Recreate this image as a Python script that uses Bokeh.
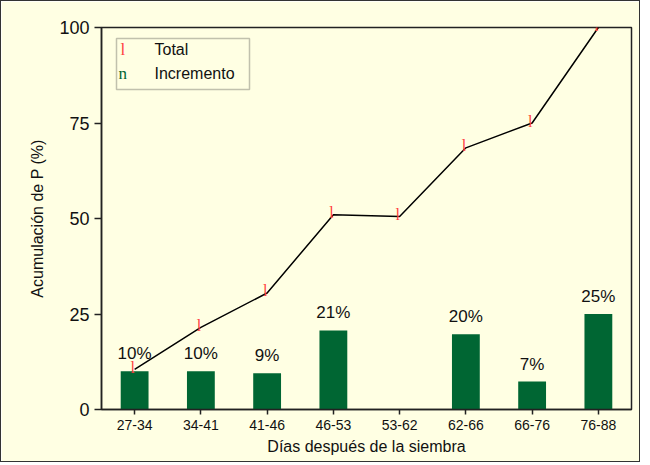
from bokeh.plotting import figure
from bokeh.models import ColumnDataSource, Range1d, FactorRange, Label, BoxAnnotation, FixedTicker
from bokeh.core.properties import value
from bokeh.embed import file_html
from bokeh.resources import INLINE

categories = ["27-34", "34-41", "41-46", "46-53", "53-62", "62-66", "66-76", "76-88"]
total = [10.5, 21.5, 30.5, 51, 50.5, 68.5, 75, 100]
increment = [10, 10, 9.5, 20.7, 0, 19.7, 7.3, 25]
inc_labels = ["10%", "10%", "9%", "21%", "", "20%", "7%", "25%"]

BG = "#FFFFE3"
GREEN = "#006633"
RED = "#FF4040"
FONT = "Liberation Sans"

p = figure(x_range=FactorRange(*categories, range_padding=0), y_range=Range1d(0, 100),
           width=640, height=462, output_backend="svg", toolbar_location=None,
           min_border_left=100, min_border_right=10, min_border_top=26, min_border_bottom=54)
p.styles = {"border": "1.5px solid #333"}
p.background_fill_color = BG
p.border_fill_color = BG
p.outline_line_color = "#222"
p.outline_line_width = 1.5
p.grid.visible = False

bars = ColumnDataSource(dict(x=categories, top=increment, lab=inc_labels))
p.vbar(x="x", top="top", width=0.42, source=bars, fill_color=GREEN, line_color=None)
p.text(x="x", y="top", text="lab", source=bars, text_align="center", text_baseline="bottom",
       y_offset=-8, text_font=value(FONT), text_font_size="17px", text_color="#111")

line = ColumnDataSource(dict(x=categories, y=total, m=["l"] * len(categories)))
p.line(x="x", y="y", source=line, line_color="black", line_width=1.5)
p.text(x="x", y="y", text="m", source=line, text_align="center", text_baseline="middle",
       x_offset=-2, y_offset=-2, text_font=value("Liberation Serif"), text_font_size="16px",
       text_color=RED)

p.yaxis.ticker = FixedTicker(ticks=[0, 25, 50, 75, 100])
for ax in (p.xaxis[0], p.yaxis[0]):
    ax.axis_line_color = "#222"
    ax.axis_line_width = 1.5
    ax.major_tick_line_color = "#222"
    ax.major_tick_line_width = 1.5
    ax.major_tick_in = 0
    ax.minor_tick_line_color = None
    ax.major_label_text_font = FONT
    ax.axis_label_text_font = FONT
    ax.axis_label_text_font_style = "normal"
    ax.major_label_text_color = "#111"
    ax.axis_label_text_color = "#111"
p.yaxis.major_tick_out = 7
p.xaxis.major_tick_out = 5
p.yaxis.major_label_text_font_size = "18px"
p.xaxis.major_label_text_font_size = "14px"
p.yaxis.axis_label = "Acumulación de P (%)"
p.xaxis.axis_label = "Días después de la siembra"
p.yaxis.axis_label_text_font_size = "16px"
p.xaxis.axis_label_text_font_size = "16px"
p.yaxis.axis_label_standoff = 10
p.xaxis.axis_label_standoff = 5

# legend (screen units, relative to the plot frame)
p.add_layout(BoxAnnotation(left=15, right=148, top=371, bottom=320,
                           left_units="screen", right_units="screen",
                           top_units="screen", bottom_units="screen",
                           fill_color=None, line_color="#333", line_width=1.5))
leg = dict(x_units="screen", y_units="screen", text_baseline="middle")
p.add_layout(Label(x=19, y=360, text="l", text_font="Liberation Serif", text_font_size="17px",
                   text_color=RED, **leg))
p.add_layout(Label(x=53, y=360, text="Total", text_font=FONT, text_font_size="16px",
                   text_color="#111", **leg))
p.add_layout(Label(x=17, y=336, text="n", text_font="Liberation Serif", text_font_size="17px",
                   text_color=GREEN, **leg))
p.add_layout(Label(x=53, y=336, text="Incremento", text_font=FONT, text_font_size="16px",
                   text_color="#111", **leg))

open("out.html", "w").write(file_html(p, INLINE))
